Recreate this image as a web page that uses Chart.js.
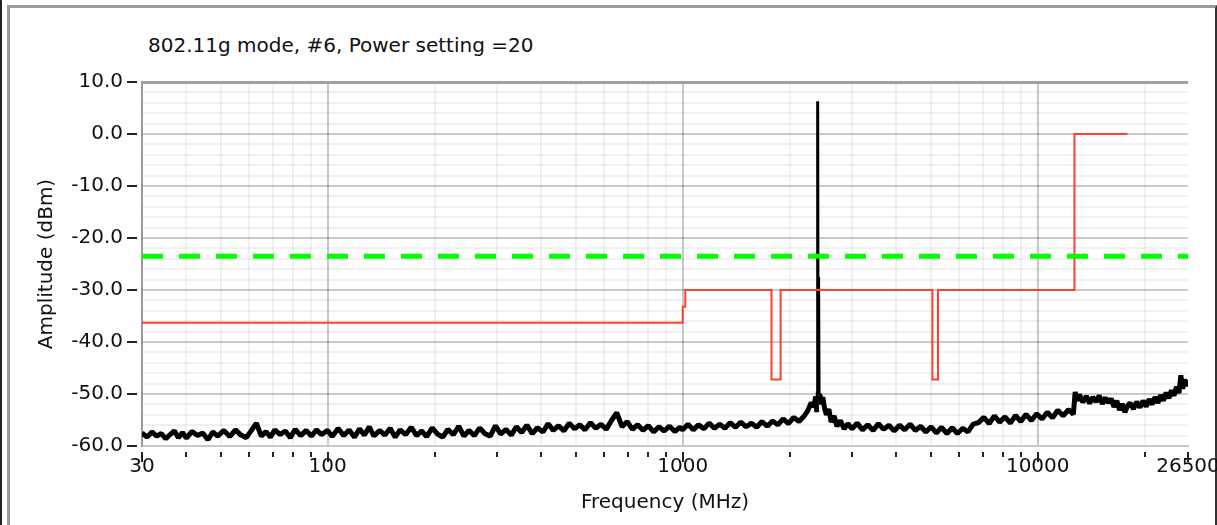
<!DOCTYPE html>
<html>
<head>
<meta charset="utf-8">
<script src="https://cdn.jsdelivr.net/npm/chart.js@4/dist/chart.umd.min.js"></script>
<style>
  html, body { margin: 0; padding: 0; background: #fff; }
  #wrap { position: relative; width: 1217px; height: 525px; overflow: hidden; }
  #edge { position: absolute; left: 0; top: 0; width: 2px; height: 525px; background: #222; }
  #frame { position: absolute; left: 7px; top: 5px; width: 1205px; height: 540px;
           border-left: 3px solid #9a9a9a; border-top: 3px solid #9a9a9a; border-right: 2px solid #333; }
  #title { position: absolute; left: 148px; top: 33px; font: 20px "DejaVu Sans"; line-height: 24px; color: #111; }
  canvas { position: absolute; left: 0; top: 0; }
</style>
</head>
<body>
<div id="wrap">
  <div id="edge"></div>
  <div id="frame"></div>
  <div id="title">802.11g mode, #6, Power setting =20</div>
  <canvas id="myChart" width="1217" height="525"></canvas>
</div>
<script>
// MEASURED TRACE (BLACK) - FREQUENCY IN MHZ, AMPLITUDE IN DBM
const noiseFreq = [
  30, 31, 32, 33, 34, 35, 36, 37, 38, 39, 40, 41.5, 43, 44.5, 46, 47.5, 49, 51, 53, 55, 57, 59, 61, 63, 65, 67, 69, 71, 73.5, 76, 78.5, 81, 84, 87, 90, 93, 96,
  100, 103, 107, 111, 115, 119, 123, 127, 131, 135, 140, 145, 150, 155, 160, 166, 172, 178, 184, 190, 197, 204, 211, 218, 226, 234, 242, 250, 259, 268, 277, 287, 297, 307, 318, 329, 340, 352, 364, 377, 390, 404, 418, 432, 447, 463, 479, 496, 513, 531, 550, 569, 589, 609, 630, 652, 675, 698, 722, 747, 773, 800, 828, 857, 887, 918, 950, 983,
  1000, 1035, 1071, 1108, 1147, 1187, 1228, 1271, 1315, 1361, 1409, 1458, 1509, 1562, 1616, 1672, 1731, 1791, 1853, 1918, 1985, 2054, 2126, 2200, 2250, 2300, 2340, 2370,
  2385, 2395, 2400, 2406, 2410, 2418, 2422,
  2440, 2460, 2480, 2510, 2540, 2580, 2620, 2670, 2720, 2780, 2850, 2920,
  3000, 3100, 3210, 3320, 3440, 3560, 3680, 3810, 3940, 4080, 4220, 4370, 4520, 4680, 4840, 5010, 5180, 5360, 5550, 5740, 5940, 6150, 6360, 6580, 6810, 7050, 7300, 7550, 7810, 8090, 8370, 8660, 8960, 9270, 9600, 9930, 10280, 10640, 11010, 11390, 11790, 12200, 12600,
  12750, 12900, 13100, 13400, 13700, 14000, 14300, 14600, 14900, 15200, 15500, 15800, 16100, 16400, 16700, 17000, 17300, 17600, 17900, 18200, 18600, 19000, 19400, 19800, 20200, 20600, 21000, 21400, 21800, 22200, 22600, 23000, 23400, 23800, 24200, 24600, 25000, 25300, 25600, 25900, 26200, 26500
];
const noiseAmp = [
  -57.5, -58.3, -57.3, -58.1, -57.6, -58.6, -57.8, -57.1, -58.4, -57.4, -58.5, -57.2, -58.0, -57.5, -58.8, -57.3, -58.1, -57.0, -58.2, -56.9, -57.9, -58.4, -57.0, -55.6, -58.1, -57.2, -58.3, -56.9, -57.8, -57.1, -58.4, -56.8, -58.0, -57.0, -58.1, -56.9, -57.8,
  -57.0, -58.2, -56.6, -58.0, -56.9, -58.3, -56.7, -57.9, -56.3, -58.1, -57.0, -57.9, -56.6, -58.3, -56.9, -57.8, -56.4, -58.0, -57.1, -58.2, -56.5, -57.7, -58.3, -56.8, -57.8, -56.2, -58.1, -57.0, -58.0, -56.5, -57.6, -58.1, -56.1, -57.7, -56.8, -57.9, -56.3, -57.4, -56.0, -57.6, -56.5, -57.3, -55.7, -57.0, -56.1, -57.1, -55.6, -56.7, -55.9, -56.9, -55.5, -56.6, -55.8, -56.8, -55.1, -53.6, -56.3, -55.3, -56.8, -55.9, -57.0, -56.1, -57.3, -56.3, -57.1, -56.2, -57.2, -56.4,
  -56.9, -55.8, -56.9, -55.9, -56.7, -55.6, -56.6, -55.8, -56.6, -55.5, -56.4, -55.4, -56.3, -55.6, -56.4, -55.3, -56.2, -55.2, -55.9, -54.8, -55.7, -54.5, -55.3, -54.2, -53.2, -51.7, -52.4, -50.5,
  -53.5, -49.5, 6.3, -49.0, -27.5, -27.5, -50.2,
  -50.3, -52.0, -50.6, -52.8, -54.0, -52.9, -55.4, -54.2, -56.2, -55.1, -56.7, -55.7,
  -56.7, -55.6, -56.9, -55.9, -57.0, -55.7, -56.8, -56.0, -57.1, -56.0, -56.9, -55.8, -57.0, -56.2, -57.3, -56.3, -57.5, -56.4, -57.6, -56.5, -57.6, -56.6, -57.3, -55.8, -55.5, -54.5, -55.7, -54.2, -55.4, -54.4, -55.6, -54.1, -55.3, -53.9, -55.1, -53.8, -54.8, -53.5, -54.6, -53.1, -54.2, -53.0, -53.9,
  -49.6, -51.3, -50.1, -51.6, -50.4, -51.8, -50.6, -51.5, -50.3, -51.9, -50.7, -51.7, -50.9, -52.5, -51.3, -53.1, -51.9, -53.5, -52.3, -51.7, -52.9, -51.5, -52.6, -51.3, -52.4, -51.0, -52.0, -50.6, -51.7, -50.2, -51.3, -49.7, -50.8, -49.3, -50.3, -48.6, -49.8, -46.4, -49.0, -47.2, -48.5, -47.3
];
// CARRIER PEAK REGION (DRAWN WITH A THINNER PEN THAN THE NOISE FLOOR)
const peakStart = 2385;
const peakEnd = 2422;

// LIMIT LINE (RED)
const limitFreq = [30, 1000, 1000, 1017, 1017, 1779, 1779, 1887, 1887, 5050, 5050, 5236, 5236, 12690, 12690, 17890];
const limitAmp = [-36.3, -36.3, -33.2, -33.2, -30, -30, -47.2, -47.2, -30, -30, -47.2, -47.2, -30, -30, 0, 0];

// REFERENCE LEVEL (GREEN DASHED)
const refFreq = [30, 26500];
const refAmp = [-23.5, -23.5];

// AXES
const xMajor = [30, 100, 1000, 10000, 26500];
const xTicks = [30, 40, 50, 60, 70, 80, 90, 100, 200, 300, 400, 500, 600, 700, 800, 900, 1000,
  2000, 3000, 4000, 5000, 6000, 7000, 8000, 9000, 10000, 20000, 26500];
const yLabels = [10, 0, -10, -20, -30, -40, -50, -60];

const FONT = { family: 'DejaVu Sans', size: 20 };
const MAJOR_GRID = 'rgba(0,0,0,0.21)';
const MINOR_GRID = 'rgba(0,0,0,0.055)';

const toPoints = (xs, ys) => xs.map((f, i) => ({ x: f, y: ys[i] }));

// TICK MARKS DRAWN WITH A SMALL GAP FROM THE AXES, LIKE THE ORIGINAL
const tickMarks = {
  id: 'tickMarks',
  afterDraw(chart) {
    const { ctx, chartArea, scales: { x, y } } = chart;
    ctx.save();
    ctx.strokeStyle = '#222';
    ctx.lineWidth = 2;
    xTicks.forEach(v => {
      const px = Math.round(x.getPixelForValue(v));
      const len = xMajor.includes(v) ? 10 : 5;
      ctx.beginPath();
      ctx.moveTo(px, chartArea.bottom + 6);
      ctx.lineTo(px, chartArea.bottom + 6 + len);
      ctx.stroke();
    });
    yLabels.forEach(v => {
      const py = Math.round(y.getPixelForValue(v));
      ctx.beginPath();
      ctx.moveTo(chartArea.left - 15, py);
      ctx.lineTo(chartArea.left - 5, py);
      ctx.stroke();
    });
    ctx.restore();
  }
};

const ctx = document.getElementById('myChart').getContext('2d');
const myChart = new Chart(ctx, {
  type: 'scatter',
  data: {
    datasets: [
      {
        label: 'Reference',
        data: toPoints(refFreq, refAmp),
        showLine: true,
        borderColor: '#00ff00',
        borderWidth: 5,
        borderDash: [21, 16],
        pointRadius: 0,
        order: 0
      },
      {
        label: 'Limit',
        data: toPoints(limitFreq, limitAmp),
        showLine: true,
        borderColor: '#ff4030',
        borderWidth: 2,
        pointRadius: 0,
        order: 1
      },
      {
        label: 'Trace',
        data: toPoints(noiseFreq, noiseAmp),
        showLine: true,
        borderColor: '#000',
        borderWidth: 5,
        borderJoinStyle: 'bevel',
        pointRadius: 0,
        order: 2,
        segment: {
          borderWidth: c => (c.p0.parsed.x >= peakStart && c.p1.parsed.x <= peakEnd) ? 3 : 5
        }
      }
    ]
  },
  options: {
    responsive: false,
    animation: false,
    layout: { padding: { top: 82, right: 29, left: 0, bottom: 0 } },
    plugins: {
      legend: { display: false },
      tooltip: { enabled: false }
    },
    scales: {
      x: {
        type: 'logarithmic',
        min: 30,
        max: 26500,
        afterBuildTicks: scale => { scale.ticks = xTicks.map(v => ({ value: v })); },
        afterFit: scale => { scale.height = 79; scale.paddingLeft = 0; scale.paddingRight = 0; },
        ticks: {
          autoSkip: false,
          maxRotation: 0,
          padding: 9,
          color: '#111',
          font: FONT,
          callback: v => xMajor.includes(v) ? String(v) : ''
        },
        grid: {
          drawTicks: false,
          lineWidth: 2,
          color: c => {
            const v = c.tick && c.tick.value;
            if (v === 26500 || v === 30) return 'rgba(0,0,0,0)';
            return xMajor.includes(v) ? MAJOR_GRID : MINOR_GRID;
          }
        },
        border: { color: '#c8c8c8', width: 2 },
        title: { display: true, text: 'Frequency (MHz)', color: '#111', font: FONT, padding: { top: 0, bottom: 10 } }
      },
      y: {
        min: -60,
        max: 10,
        afterFit: scale => { scale.width = 142; scale.paddingTop = 0; scale.paddingBottom = 0; },
        ticks: {
          stepSize: 2,
          autoSkip: false,
          padding: 19,
          color: '#111',
          font: FONT,
          callback: v => v % 10 === 0 ? v.toFixed(1) : ''
        },
        grid: {
          drawTicks: false,
          lineWidth: c => (c.tick && c.tick.value === 10) ? 3 : 2,
          color: c => {
            const v = c.tick && c.tick.value;
            if (v === 10) return '#a0a0a0';
            return v % 10 === 0 ? MAJOR_GRID : MINOR_GRID;
          }
        },
        border: { color: '#999', width: 2 },
        title: { display: true, text: 'Amplitude (dBm)', color: '#111', font: FONT, padding: { top: 35, bottom: 0 } }
      }
    }
  },
  plugins: [tickMarks]
});
</script>
</body>
</html>
